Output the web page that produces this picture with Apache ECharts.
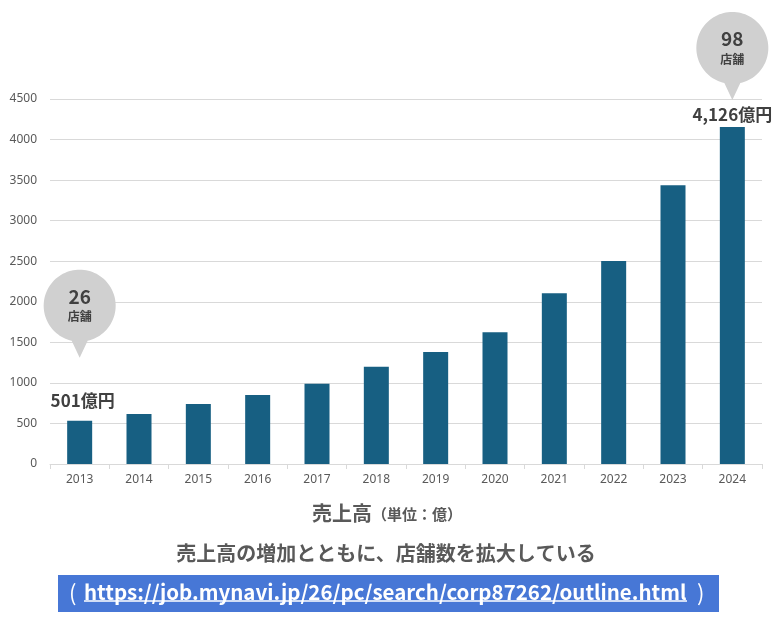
<!DOCTYPE html>
<html><head><meta charset="utf-8">
<script src="https://cdn.jsdelivr.net/npm/echarts@6/dist/echarts.min.js"></script>
<style>html,body{margin:0;padding:0;background:#fff;}#c{width:780px;height:619px;}</style>
</head><body><div id="c"></div>
<script>
const years = ['2013','2014','2015','2016','2017','2018','2019','2020','2021','2022','2023','2024'];
const sales = [534, 617, 740, 851, 990, 1200, 1381, 1624, 2105, 2503, 3437, 4155];
const barLabels = {0: '501億円', 11: '4,126億円'};
const storeCounts = [{idx: 0, count: '26'}, {idx: 11, count: '98'}];
const storeUnit = '店舗';
const yTicks = {min: 0, max: 4500, interval: 500};
const axisTitle = '売上高';
const axisUnit = '（単位：億）';
const subtitle = '売上高の増加とともに、店舗数を拡大している';
const linkText = 'https://job.mynavi.jp/26/pc/search/corp87262/outline.html';

const JP = '"Noto Sans CJK JP", "Noto Sans", sans-serif';

// speech-bubble outline: circle radius 36 with a narrow tail, as polygon
function bubblePath() {
  const r = 36, hw = 8, tip = 52;
  const a0 = Math.acos(hw / r);
  const start = Math.PI - a0, end = a0 + 2 * Math.PI;
  const n = 96;
  let d = '';
  for (let i = 0; i <= n; i++) {
    const a = start + (end - start) * i / n;
    const x = (r * Math.cos(a)).toFixed(2), y = (r * Math.sin(a)).toFixed(2);
    d += (i === 0 ? 'M' : 'L') + x + ' ' + y + ' ';
  }
  d += 'L0 ' + tip + ' Z';
  return 'path://' + d;
}

const chart = echarts.init(document.getElementById('c'), null, {renderer: 'canvas'});

const barData = sales.map((v, i) => {
  if (barLabels[i] === undefined) return v;
  return {
    value: v,
    label: {
      show: true, position: 'top', distance: i === 0 ? 12 : 4, offset: i === 0 ? [3, 0] : [0, 0],
      formatter: barLabels[i], color: '#404040', fontSize: 17, fontWeight: 'bold', fontFamily: JP
    }
  };
});

const bubbleOffsets = {0: -107, 11: -71};
const markData = storeCounts.map(s => ({
  coord: [years[s.idx], sales[s.idx]],
  symbolOffset: [0, bubbleOffsets[s.idx]],
  label: {formatter: '{n|' + s.count + '}\n{u|' + storeUnit + '}'}
}));

chart.setOption({
  animation: false,
  grid: {left: 50, right: 18, top: 99, bottom: 155, containLabel: false},
  xAxis: {
    type: 'category', data: years,
    axisLine: {lineStyle: {color: '#d9d9d9', width: 1}},
    axisTick: {show: true, length: 5, lineStyle: {color: '#d9d9d9'}},
    axisLabel: {color: '#595959', fontSize: 12, margin: 10, fontFamily: '"Noto Sans", sans-serif'}
  },
  yAxis: {
    type: 'value', min: yTicks.min, max: yTicks.max, interval: yTicks.interval,
    axisLine: {show: false}, axisTick: {show: false},
    axisLabel: {color: '#595959', fontSize: 12, margin: 13, fontFamily: '"Noto Sans", sans-serif',
      formatter: v => String(v)},
    splitLine: {lineStyle: {color: '#d9d9d9', width: 1}}
  },
  series: [{
    type: 'bar', data: barData, barWidth: 25,
    itemStyle: {color: '#175f82'},
    markPoint: {
      symbol: bubblePath(), symbolSize: [72, 88], symbolKeepAspect: false,
      itemStyle: {color: '#d0d0d0'},
      label: {
        show: true, position: 'inside', offset: [0, -8],
        rich: {
          n: {fontSize: 19, fontWeight: 'bold', color: '#404040', fontFamily: JP, lineHeight: 22},
          u: {fontSize: 12, fontWeight: 'bold', color: '#404040', fontFamily: JP, lineHeight: 18}
        }
      },
      data: markData
    }
  }],
  graphic: [
    {type: 'text', x: 387, y: 513,
     style: {text: '{a|' + axisTitle + '}{b|' + axisUnit + '}', align: 'center', verticalAlign: 'middle',
       rich: {
         a: {fontSize: 20, fontWeight: 'bold', fill: '#595959', fontFamily: JP},
         b: {fontSize: 15, fontWeight: 'bold', fill: '#595959', fontFamily: JP, padding: [3, 0, 0, 0]}
       }}},
    {type: 'text', x: 386, y: 553,
     style: {text: subtitle, font: 'bold 20px ' + JP, fill: '#595959', align: 'center', verticalAlign: 'middle'}},
    {type: 'rect', shape: {x: 58, y: 575, width: 661, height: 37}, style: {fill: '#4777d6'}},
    {type: 'text', x: 69, y: 593,
     style: {text: '(', font: '22px ' + JP, fill: '#ffffff', verticalAlign: 'middle'}},
    {type: 'text', x: 84, y: 592,
     style: {text: linkText, font: 'bold 20.5px ' + JP, fill: '#ffffff', verticalAlign: 'middle'}},
    {type: 'text', x: 697, y: 593,
     style: {text: ')', font: '22px ' + JP, fill: '#ffffff', verticalAlign: 'middle'}},
    {type: 'line', shape: {x1: 84, y1: 601, x2: 687, y2: 601}, style: {stroke: '#ffffff', lineWidth: 1.5}}
  ]
});
</script></body></html>
